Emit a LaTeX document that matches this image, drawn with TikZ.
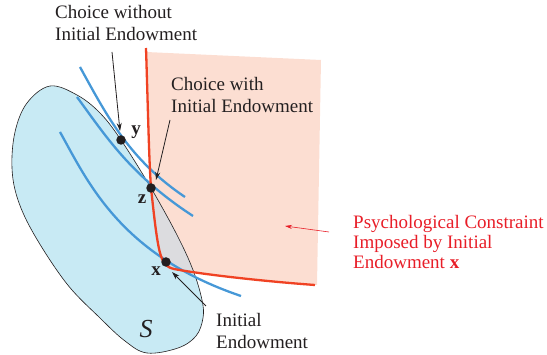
\documentclass[tikz,border=0pt]{standalone}
\usepackage{fontspec}
\setmainfont{Liberation Serif}
\usetikzlibrary{arrows.meta}
\definecolor{pinkfill}{RGB}{252,222,210}
\definecolor{bluefill}{RGB}{200,234,244}
\definecolor{grayfill}{RGB}{220,220,223}
\definecolor{blueline}{RGB}{70,152,215}
\definecolor{redline}{RGB}{240,66,35}
\definecolor{redtext}{RGB}{232,30,40}
\definecolor{inkc}{RGB}{35,31,32}
\tikzset{
  blobpath/.style={insert path={plot[smooth cycle,tension=0.6] coordinates {(50,86) (77,95) (100,113) (121,140) (151,188) (177,235) (193,270) (202,300) (203,318) (196,336) (178,348) (147,353) (125,341) (100,318) (67,284) (35,236) (18,200) (12,168) (15,132) (27,103)}}},
  pinkpath/.style={insert path={(146,52) .. controls (148,110) and (149,160) .. (151,188) .. controls (154,215) and (157,245) .. (161,256) .. controls (163,263) and (166,267) .. (174,269) .. controls (200,274) and (260,281) .. (317,285) -- (321,60) -- cycle}},
  icurve/.style={draw=blueline,line width=2.3pt},
  dotnode/.style={circle,fill=inkc,inner sep=0pt,minimum size=9.5pt},
  lbl/.style={font=\fontsize{19}{22.5}\selectfont,text=inkc,align=left,inner sep=0pt,anchor=north west},
  ptlbl/.style={font=\fontsize{19}{22.5}\selectfont\bfseries,text=inkc,inner sep=0pt},
  pointer/.style={draw=inkc,line width=0.8pt,-{Stealth[length=8pt,width=5pt]}},
}
\begin{document}
\begin{tikzpicture}[x=1pt,y=-1pt]
\useasboundingbox (0,0) rectangle (547,355);
% pink region
\fill[pinkfill,pinkpath];
% blob
\fill[bluefill,blobpath];
\begin{scope}
  \clip[blobpath];
  \fill[grayfill,pinkpath];
\end{scope}
\draw[inkc,line width=0.6pt,blobpath];
% indifference curves
\draw[icurve] (80,67) .. controls (108,118) and (130,160) .. (185,197);
\draw[icurve] (77,97) .. controls (105,135) and (130,175) .. (193,216);
\draw[icurve] (60,132) .. controls (88,182) and (120,255) .. (241,296);
% constraint
\draw[redline,line width=2.3pt] (146,48) .. controls (148,110) and (149,160) .. (151,188) .. controls (154,215) and (157,245) .. (161,256) .. controls (163,263) and (166,267) .. (174,269) .. controls (200,274) and (260,281) .. (315,285);
% points
\node[dotnode] (y) at (121,140) {};
\node[dotnode] (z) at (151,188) {};
\node[dotnode] (x) at (166,262) {};
\node[ptlbl] (ylbl) at (136,132) {y};
\node[ptlbl] (zlbl) at (142,199) {z};
\node[ptlbl] (xlbl) at (156,271) {x};
\node[font=\fontsize{26}{28}\selectfont\itshape,text=inkc,inner sep=0pt] (S) at (146,329) {S};
% labels
\node[lbl] (l1) at (55,5) {Choice without\\Initial Endowment};
\node[lbl] (l2) at (171,77) {Choice with\\Initial Endowment};
\node[lbl] (l3) at (216,313) {Initial\\Endowment};
\node[lbl,text=redtext,font=\fontsize{19}{20.3}\selectfont] (l4) at (353,215) {Psychological Constraint\\Imposed by Initial\\Endowment \textbf{x}};
% pointers
\coordinate (a1) at (112,52);
\coordinate (a1e) at (120,131);
\coordinate (a2) at (170,120);
\coordinate (a2e) at (156,180);
\coordinate (a3) at (206,306);
\coordinate (a3e) at (172,272);
\coordinate (a4) at (329,232);
\coordinate (a4e) at (285,226);
\draw[pointer] (a1) -- (a1e);
\draw[pointer] (a2) -- (a2e);
\draw[pointer] (a3) -- (a3e);
\draw[draw=redtext,line width=0.6pt,-{Stealth[length=7pt,width=4pt]}] (a4) -- (a4e);
\end{tikzpicture}
\end{document}
